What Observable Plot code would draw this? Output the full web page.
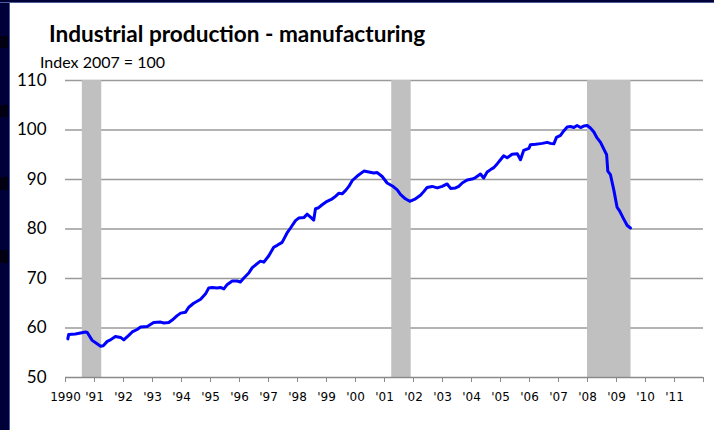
<!DOCTYPE html>
<html><head><meta charset="utf-8">
<script src="https://cdn.jsdelivr.net/npm/d3@7"></script>
<script src="https://cdn.jsdelivr.net/npm/@observablehq/plot@0.6"></script>
<style>
body{margin:0;background:#fff;}
#wrap{position:relative;width:714px;height:430px;overflow:hidden;background:#fff;}
#title{position:absolute;left:49px;top:20px;font-family:Lato,sans-serif;font-weight:bold;font-size:22.6px;line-height:1.2;color:#000;white-space:nowrap;}
#sub{position:absolute;left:40px;top:52px;font-family:Lato,sans-serif;font-size:16px;line-height:1.2;color:#000;white-space:nowrap;}
#chart{position:absolute;left:0;top:68px;}
.edge{position:absolute;background:#000038;z-index:5;}
.blk{position:absolute;background:#000012;z-index:6;left:0;width:8px;}
</style></head>
<body><div id="wrap">
<div id="title">Industrial production - manufacturing</div>
<div id="sub">Index 2007 = 100</div>
<div id="chart"></div>
<div class="edge" style="left:0;top:0;width:9px;height:430px;border-right:1px solid #4a5c9a;"></div>
<div class="edge" style="left:0;top:0;width:714px;height:2px;border-bottom:1px solid #4a5c9a;"></div>
<div class="blk" style="top:36px;height:12px"></div>
<div class="blk" style="top:105px;height:12px"></div>
<div class="blk" style="top:177px;height:13px"></div>
<div class="blk" style="top:250px;height:13px"></div>
</div>
<script>
// monthly-ish readings (decimal year) and index values
const dates = [1990.08,1990.11,1990.34,1990.69,1990.75,1990.92,1991.09,1991.21,1991.30,1991.44,1991.55,1991.72,1991.90,1992.01,1992.18,1992.30,1992.47,1992.59,1992.82,1993.04,1993.28,1993.39,1993.56,1993.68,1993.85,
1993.97,1994.14,1994.25,1994.42,1994.66,1994.83,1994.94,1995.06,1995.23,1995.34,1995.46,1995.58,1995.75,1995.92,1996.03,1996.15,1996.32,1996.44,1996.61,1996.72,1996.84,1997.01,1997.18,1997.30,1997.47,1997.64,1997.76,
1997.93,1998.04,1998.22,1998.33,1998.45,1998.56,1998.62,1998.73,1998.85,1999.02,1999.20,1999.31,1999.42,1999.54,1999.66,1999.77,1999.89,2000.06,2000.29,2000.46,2000.63,2000.75,2000.92,2001.09,2001.27,2001.44,2001.55,2001.72,2001.87,
2002.07,2002.24,2002.36,2002.47,2002.64,2002.82,2002.99,2003.16,2003.28,2003.45,2003.56,2003.68,2003.85,2004.02,2004.14,2004.31,2004.42,2004.54,2004.66,2004.77,2004.89,2005.00,2005.11,2005.23,2005.40,2005.58,2005.69,2005.80,2005.98,
2006.03,2006.21,2006.32,2006.44,2006.61,2006.72,2006.84,2006.93,2007.07,2007.18,2007.30,2007.41,2007.53,2007.64,2007.76,2007.87,2007.99,2008.10,2008.22,2008.33,2008.45,2008.56,2008.66,2008.70,2008.79,2008.91,2009.02,2009.11,2009.25,2009.37,2009.48];
const values = [57.8,58.7,58.8,59.2,59.1,57.5,56.8,56.3,56.4,57.3,57.6,58.3,58.1,57.6,58.5,59.2,59.7,60.2,60.3,61.1,61.2,61.0,61.1,61.6,62.5,
63.0,63.2,64.2,65.0,65.8,66.9,68.1,68.2,68.1,68.2,67.9,68.8,69.5,69.5,69.3,70.1,71.1,72.2,73.0,73.5,73.3,74.6,76.3,76.7,77.3,79.2,80.2,
81.7,82.2,82.3,83.0,82.4,81.8,84.1,84.3,84.9,85.6,86.1,86.6,87.2,87.1,87.8,88.6,89.8,90.7,91.7,91.5,91.3,91.4,90.6,89.3,88.7,87.9,87.0,86.1,85.6,
86.1,86.8,87.6,88.4,88.6,88.3,88.6,89.1,88.2,88.3,88.6,89.3,89.9,90.1,90.4,91.1,90.3,91.5,92.0,92.4,93.2,94.0,94.8,94.4,95.1,95.2,94.0,95.9,96.3,
97.0,97.1,97.2,97.3,97.5,97.3,97.2,98.5,98.9,99.8,100.6,100.7,100.5,100.9,100.5,100.8,100.9,100.4,99.6,98.4,97.5,96.2,95.0,91.7,91.0,87.8,84.4,83.6,82.0,80.7,80.2];
const recessionStart = [1990.58, 2001.25, 2008.0];
const recessionEnd = [1991.25, 2001.92, 2009.5];
const yTicks = [50,60,70,80,90,100,110];
const xTicks = d3.range(1990, 2013);
const xTickLabels = ["1990","'91","'92","'93","'94","'95","'96","'97","'98","'99","'00","'01","'02","'03","'04","'05","'06","'07","'08","'09","'10","'11",""];

const series = dates.map((d, i) => ({t: d, v: values[i]}));
const bands = recessionStart.map((s, i) => ({s, e: recessionEnd[i]}));

const chart = Plot.plot({
  width: 714,
  height: 362,
  marginLeft: 65,
  marginRight: 11,
  marginTop: 12,
  marginBottom: 53,
  style: {background: "transparent", color: "#000"},
  x: {domain: [1990, 2012], type: "linear"},
  y: {domain: [50, 110]},
  marks: [
    Plot.ruleY(yTicks.filter(d => d > 50), {stroke: "#9a9a9a", strokeWidth: 1.6}),
    Plot.rect(bands, {x1: "s", x2: "e", y1: 50, y2: 110, fill: "#c0c0c0"}),
    Plot.ruleY([50], {stroke: "#8a8a8a", strokeWidth: 1.6}),
    Plot.axisY({ticks: yTicks, tickSize: 0, tickPadding: 19, fontSize: 17, fontFamily: "Lato, sans-serif", label: null}),
    Plot.axisX({ticks: xTicks, tickSize: 5, tickPadding: 10, stroke: "#8a8a8a", fontSize: 12, fontFamily: "DejaVu Sans, sans-serif", tickFormat: (d) => xTickLabels[xTicks.indexOf(d)], label: null}),
    Plot.line(series, {x: "t", y: "v", stroke: "#0000ff", strokeWidth: 3, strokeLinejoin: "round"})
  ]
});
document.getElementById("chart").appendChild(chart);
</script>
</body></html>
